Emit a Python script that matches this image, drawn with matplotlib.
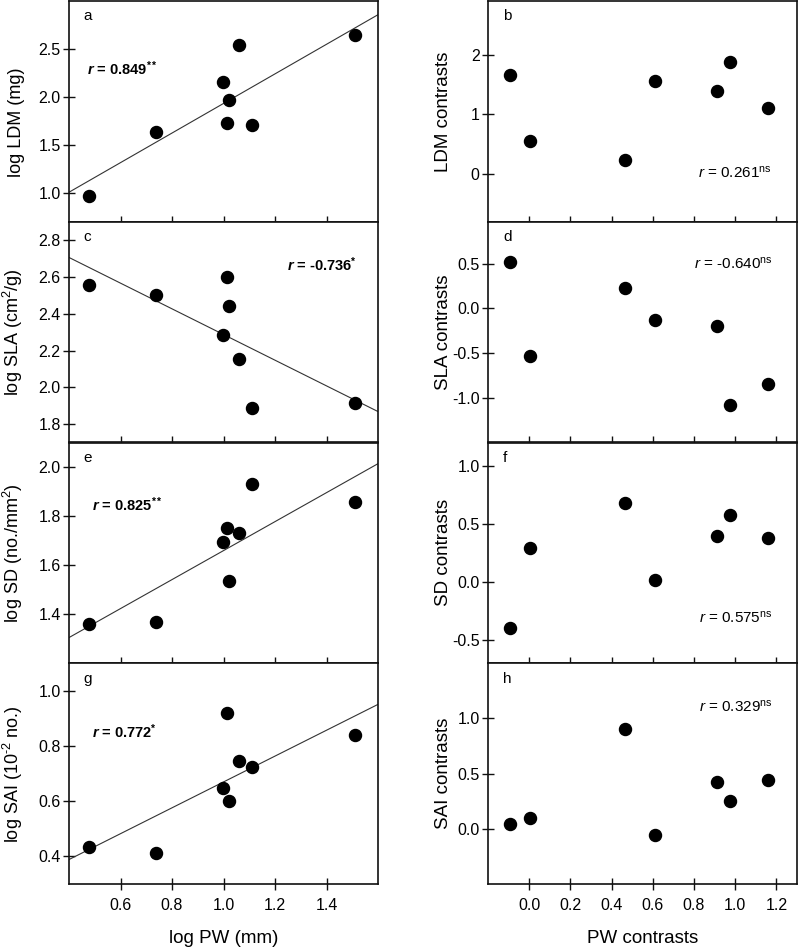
import numpy as np
import matplotlib
matplotlib.use("Agg")
import matplotlib.pyplot as plt
from matplotlib.ticker import FormatStrFormatter

plt.rcParams['font.family'] = ['Liberation Sans', 'DejaVu Sans']
plt.rcParams['mathtext.fontset'] = 'custom'
plt.rcParams['mathtext.rm'] = 'Liberation Sans'
plt.rcParams['mathtext.it'] = 'Liberation Sans:italic'
plt.rcParams['mathtext.bf'] = 'Liberation Sans:bold'
plt.rcParams['mathtext.bfit'] = 'Liberation Sans:bold:italic'
plt.rcParams['axes.unicode_minus'] = False

# species values (log scale), left column
log_pw = [0.478, 0.738, 0.997, 1.014, 1.022, 1.061, 1.111, 1.512]
log_ldm = [0.966, 1.638, 2.159, 1.731, 1.969, 2.545, 1.703, 2.645]
log_sla = [2.557, 2.504, 2.285, 2.602, 2.442, 2.152, 1.885, 1.916]
log_sd = [1.362, 1.370, 1.693, 1.753, 1.534, 1.731, 1.932, 1.859]
log_sai = [0.435, 0.412, 0.649, 0.919, 0.600, 0.746, 0.725, 0.841]

# independent contrasts, right column
pw_c = [-0.092, 0.003, 0.467, 0.609, 0.913, 0.976, 1.160]
ldm_c = [1.665, 0.553, 0.240, 1.564, 1.397, 1.877, 1.101]
sla_c = [0.515, -0.537, 0.228, -0.127, -0.194, -1.086, -0.840]
sd_c = [-0.394, 0.290, 0.682, 0.018, 0.393, 0.579, 0.379]
sai_c = [0.045, 0.096, 0.907, -0.054, 0.422, 0.256, 0.440]

left_labels = ['log LDM (mg)', 'log SLA (cm$^2$/g)',
               'log SD (no./mm$^2$)', r'log SAI (10$^{\text{-2}}$ no.)']
right_labels = ['LDM contrasts', 'SLA contrasts', 'SD contrasts', 'SAI contrasts']
left_r = [r'$\mathbfit{r}$ = 0.849$^{\mathbf{**}}$', r'$\mathbfit{r}$ = -0.736$^{\mathbf{*}}$',
          r'$\mathbfit{r}$ = 0.825$^{\mathbf{**}}$', r'$\mathbfit{r}$ = 0.772$^{\mathbf{*}}$']
right_r = [r'$\it{r}$ = 0.261$^{\rm ns}$', r'$\it{r}$ = -0.640$^{\rm ns}$',
           r'$\it{r}$ = 0.575$^{\rm ns}$', r'$\it{r}$ = 0.329$^{\rm ns}$']
letters_l = ['a', 'c', 'e', 'g']
letters_r = ['b', 'd', 'f', 'h']

left_y = [log_ldm, log_sla, log_sd, log_sai]
right_y = [ldm_c, sla_c, sd_c, sai_c]

left_ylim = [(0.7, 3.0), (1.7, 2.9), (1.2, 2.1), (0.3, 1.1)]
right_ylim = [(-0.8, 2.9), (-1.5, 0.97), (-0.7, 1.2), (-0.5, 1.5)]
left_yt = [[1.0, 1.5, 2.0, 2.5], [1.8, 2.0, 2.2, 2.4, 2.6, 2.8],
           [1.4, 1.6, 1.8, 2.0], [0.4, 0.6, 0.8, 1.0]]
right_yt = [[0, 1, 2], [-1.0, -0.5, 0.0, 0.5], [-0.5, 0.0, 0.5, 1.0], [0.0, 0.5, 1.0]]
left_fmt = ['%.1f', '%.1f', '%.1f', '%.1f']
right_fmt = ['%d', '%.1f', '%.1f', '%.1f']

# annotation positions (axes fraction)
lr_pos = [(0.058, 0.692), (0.705, 0.805), (0.073, 0.719), (0.073, 0.688)]
rr_pos = [(0.679, 0.222), (0.667, 0.81), (0.683, 0.208), (0.683, 0.805)]

fig = plt.figure(figsize=(7.99, 9.49), dpi=100)
W, H = 799.0, 949.0
top, bot = 1.0, 884.0
ph = (bot - top) / 4


def style(ax):
    for s in ax.spines.values():
        s.set_linewidth(1.2)
        s.set_color('#111111')
    ax.tick_params(direction='inout', length=8, width=1.0, labelsize=11.5,
                   color='#111111', pad=2)
    ax.tick_params(axis='x', pad=6)


for i in range(4):
    y0 = 1 - (top + ph * (i + 1)) / H
    axl = fig.add_axes([69 / W, y0, 309 / W, ph / H])
    axr = fig.add_axes([488 / W, y0, 309 / W, ph / H])

    # left: species values with regression line
    axl.scatter(log_pw, left_y[i], s=75, color='black', zorder=3)
    k, b = np.polyfit(log_pw, left_y[i], 1)
    xx = np.array([0.4, 1.6])
    axl.plot(xx, k * xx + b, color='#333333', lw=0.8)
    axl.set_xlim(0.4, 1.6)
    axl.set_ylim(*left_ylim[i])
    axl.set_yticks(left_yt[i])
    axl.yaxis.set_major_formatter(FormatStrFormatter(left_fmt[i]))
    axl.set_xticks([0.6, 0.8, 1.0, 1.2, 1.4])
    axl.xaxis.set_major_formatter(FormatStrFormatter('%.1f'))
    axl.set_ylabel(left_labels[i], fontsize=13)
    axl.yaxis.set_label_coords(-0.143, 0.45 if i == 0 else 0.5)
    axl.text(0.045, 0.93, letters_l[i], transform=axl.transAxes,
             fontsize=11, va='center')
    axl.text(lr_pos[i][0], lr_pos[i][1], left_r[i], transform=axl.transAxes,
             fontsize=10.5, fontweight='bold', va='center')
    style(axl)

    # right: contrasts
    axr.scatter(pw_c, right_y[i], s=75, color='black', zorder=3)
    axr.set_xlim(-0.2, 1.3)
    axr.set_ylim(*right_ylim[i])
    axr.set_yticks(right_yt[i])
    axr.yaxis.set_major_formatter(FormatStrFormatter(right_fmt[i]))
    axr.set_xticks([0.0, 0.2, 0.4, 0.6, 0.8, 1.0, 1.2])
    axr.xaxis.set_major_formatter(FormatStrFormatter('%.1f'))
    axr.set_ylabel(right_labels[i], fontsize=13.5)
    axr.yaxis.set_label_coords(-0.117, 0.5)
    axr.text(0.049, 0.93, letters_r[i], transform=axr.transAxes,
             fontsize=11, va='center')
    axr.text(rr_pos[i][0], rr_pos[i][1], right_r[i], transform=axr.transAxes,
             fontsize=11, va='center')
    style(axr)

    if i < 3:
        axl.tick_params(labelbottom=False)
        axr.tick_params(labelbottom=False)
    else:
        axl.set_xlabel('log PW (mm)', fontsize=13.5, labelpad=12)
        axr.set_xlabel('PW contrasts', fontsize=13.5, labelpad=12)

fig.savefig('out.png', dpi=100)
